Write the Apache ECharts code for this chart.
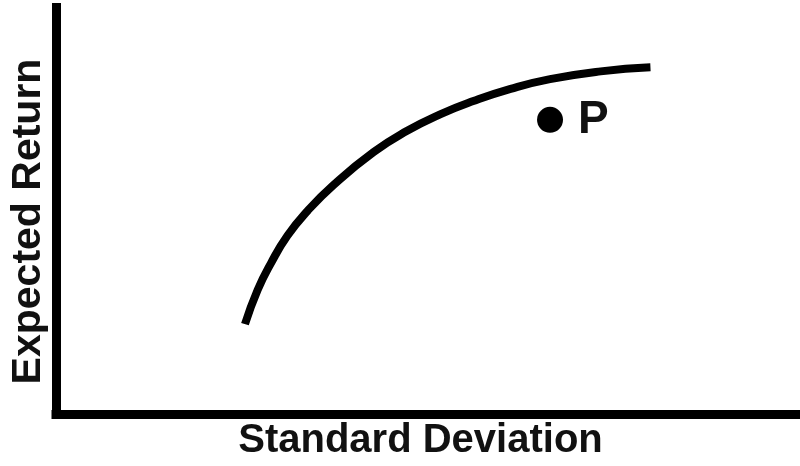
<!DOCTYPE html>
<html>
<head>
<meta charset="utf-8">
<script src="https://cdn.jsdelivr.net/npm/echarts@6/dist/echarts.min.js"></script>
<style>
  html, body { margin: 0; padding: 0; background: #fff; }
  #chart { width: 800px; height: 466px; }
</style>
</head>
<body>
<div id="chart"></div>
<script>
// Efficient frontier (standard deviation vs expected return), arbitrary units 0-100
var frontierSD = [25.4, 27.1, 28.9, 31.1, 33.8, 37.3, 42.7, 47.2, 51.7, 56.1, 61.1, 66.4, 73.2, 79.9];
var frontierReturn = [22.2, 30.6, 37.2, 43.9, 50.0, 56.4, 64.5, 69.7, 73.8, 77.0, 80.0, 82.4, 84.3, 85.3];
var portfolioName = 'P';
var portfolioSD = [66.4];
var portfolioReturn = [72.4];
var xTitle = 'Standard Deviation';
var yTitle = 'Expected Return';

var frontierData = frontierSD.map(function (x, i) { return [x, frontierReturn[i]]; });
var pointData = portfolioSD.map(function (x, i) { return [x, portfolioReturn[i]]; });

var font = '"Liberation Sans", Arial, Helvetica, sans-serif';
var chart = echarts.init(document.getElementById('chart'), null, { renderer: 'canvas' });
chart.setOption({
  backgroundColor: '#ffffff',
  animation: false,
  grid: { left: 55, right: 0, top: 7.5, bottom: 51.5, containLabel: false },
  xAxis: {
    type: 'value', min: 0, max: 100,
    name: xTitle, nameLocation: 'middle', nameGap: 6,
    nameTextStyle: { fontFamily: font, fontWeight: 'bold', fontSize: 40, color: '#111', padding: [0, 15, 0, 0] },
    axisLine: { show: true, lineStyle: { color: '#000', width: 9, cap: 'square' } },
    axisTick: { show: false }, axisLabel: { show: false }, splitLine: { show: false }
  },
  yAxis: {
    type: 'value', min: 0, max: 100,
    name: yTitle, nameLocation: 'middle', nameGap: 7,
    nameTextStyle: { fontFamily: font, fontWeight: 'bold', fontSize: 41, color: '#111', padding: [0, 21, 0, 0] },
    axisLine: { show: true, lineStyle: { color: '#000', width: 9, cap: 'square' } },
    axisTick: { show: false }, axisLabel: { show: false }, splitLine: { show: false }
  },
  series: [
    {
      type: 'line', data: frontierData, smooth: 0.5, showSymbol: false,
      lineStyle: { color: '#000', width: 8, cap: 'butt' }
    },
    {
      type: 'scatter', data: pointData, symbol: 'circle', symbolSize: 26,
      itemStyle: { color: '#000', opacity: 1 },
      label: {
        show: true, position: 'right', distance: 15, formatter: portfolioName,
        fontFamily: font, fontWeight: 'bold', fontSize: 46, color: '#111', opacity: 1
      }
    }
  ]
});
</script>
</body>
</html>
